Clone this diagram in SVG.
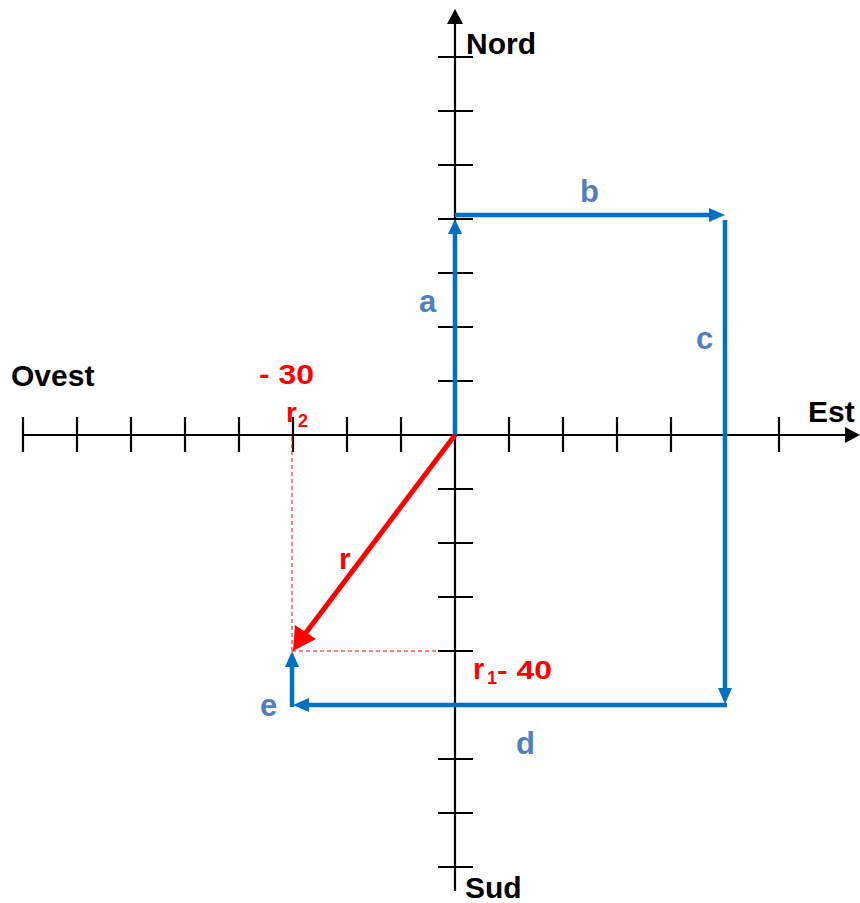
<svg xmlns="http://www.w3.org/2000/svg" width="860" height="903" viewBox="0 0 860 903">
<defs>
<style>
.ax{stroke:#000;stroke-width:2.2;fill:none}
.tk{stroke:#000;stroke-width:2.2}
.vec{stroke:#0070C0;stroke-width:4.5;fill:none}
.red{stroke:#FF0000;stroke-width:5;fill:none}
.dash{stroke:#FF0000;stroke-width:1;stroke-dasharray:4,3;fill:none}
.lab{font-family:"Liberation Sans",Arial,sans-serif;font-weight:bold;font-size:30px;fill:#000}
.bl{font-family:"Liberation Sans",Arial,sans-serif;font-weight:bold;font-size:31px;fill:#4F81BD}
.rd{font-family:"Liberation Sans",Arial,sans-serif;font-weight:bold;fill:#FF0000}
</style>
</defs>
<g id="axes">
<line class="ax" x1="23" y1="435" x2="846" y2="435"/>
<path d="M845,427 L860,435 L845,443 Z" fill="#000"/>
<line class="ax" x1="455" y1="24" x2="455" y2="891"/>
<path d="M447,24 L455,9 L463,24 Z" fill="#000"/>
<g class="tk">
<line x1="23" y1="417" x2="23" y2="452"/>
<line x1="77" y1="417" x2="77" y2="452"/>
<line x1="131" y1="417" x2="131" y2="452"/>
<line x1="185" y1="417" x2="185" y2="452"/>
<line x1="239" y1="417" x2="239" y2="452"/>
<line x1="293" y1="417" x2="293" y2="452"/>
<line x1="347" y1="417" x2="347" y2="452"/>
<line x1="401" y1="417" x2="401" y2="452"/>
<line x1="509" y1="417" x2="509" y2="452"/>
<line x1="563" y1="417" x2="563" y2="452"/>
<line x1="617" y1="417" x2="617" y2="452"/>
<line x1="671" y1="417" x2="671" y2="452"/>
<line x1="725" y1="417" x2="725" y2="452"/>
<line x1="779" y1="417" x2="779" y2="452"/>
<line x1="438" y1="57" x2="473" y2="57"/>
<line x1="438" y1="111" x2="473" y2="111"/>
<line x1="438" y1="165" x2="473" y2="165"/>
<line x1="438" y1="219" x2="473" y2="219"/>
<line x1="438" y1="273" x2="473" y2="273"/>
<line x1="438" y1="327" x2="473" y2="327"/>
<line x1="438" y1="381" x2="473" y2="381"/>
<line x1="438" y1="489" x2="473" y2="489"/>
<line x1="438" y1="543" x2="473" y2="543"/>
<line x1="438" y1="597" x2="473" y2="597"/>
<line x1="438" y1="651" x2="473" y2="651"/>
<line x1="438" y1="705" x2="473" y2="705"/>
<line x1="438" y1="759" x2="473" y2="759"/>
<line x1="438" y1="813" x2="473" y2="813"/>
<line x1="438" y1="867" x2="473" y2="867"/>
</g>
<text class="lab" x="466" y="54">Nord</text>
<text class="lab" x="808" y="422">Est</text>
<text class="lab" x="11" y="386">Ovest</text>
<text class="lab" x="465" y="898">Sud</text>
</g>
<g id="connectors">
<line class="dash" x1="292" y1="437" x2="292" y2="651"/>
<line class="dash" x1="292" y1="651" x2="440" y2="651"/>
<g id="a"><line class="vec" x1="455" y1="435" x2="455" y2="234"/><path d="M448,234 L455,219 L462,234 Z" fill="#0070C0"/></g>
<g id="b"><line class="vec" x1="455" y1="215" x2="710" y2="215"/><path d="M709,208 L725,215 L709,222 Z" fill="#0070C0"/></g>
<g id="c"><line class="vec" x1="725" y1="220" x2="725" y2="689"/><path d="M718,688 L725,704 L732,688 Z" fill="#0070C0"/></g>
<g id="d"><line class="vec" x1="727" y1="705" x2="308" y2="705"/><path d="M309,698 L293,705 L309,712 Z" fill="#0070C0"/></g>
<g id="e"><line class="vec" x1="292" y1="707" x2="292" y2="667"/><path d="M285,667 L292,651 L299,667 Z" fill="#0070C0"/></g>
<g id="r"><line class="red" x1="455" y1="435" x2="305" y2="634"/><path d="M295,625 L293,651 L316,639 Z" fill="#FF0000"/></g>
</g>
<g id="labels">
<text class="bl" x="419" y="312">a</text>
<text class="bl" x="580" y="202">b</text>
<text class="bl" x="696" y="349">c</text>
<text class="bl" x="516" y="754">d</text>
<text class="bl" x="260" y="716">e</text>
<text class="rd" x="339" y="569" style="font-size:30px">r</text>
<text class="rd" x="259" y="384" style="font-size:27px" textLength="55" lengthAdjust="spacingAndGlyphs">- 30</text>
<text class="rd" x="286" y="422" style="font-size:28px">r</text>
<text class="rd" x="298" y="427" style="font-size:18px">2</text>
<text class="rd" x="473" y="679" style="font-size:29px">r</text>
<text class="rd" x="487" y="684" style="font-size:18px">1</text>
<text class="rd" x="497" y="679" style="font-size:26px" textLength="55" lengthAdjust="spacingAndGlyphs">- 40</text>
</g>
</svg>
